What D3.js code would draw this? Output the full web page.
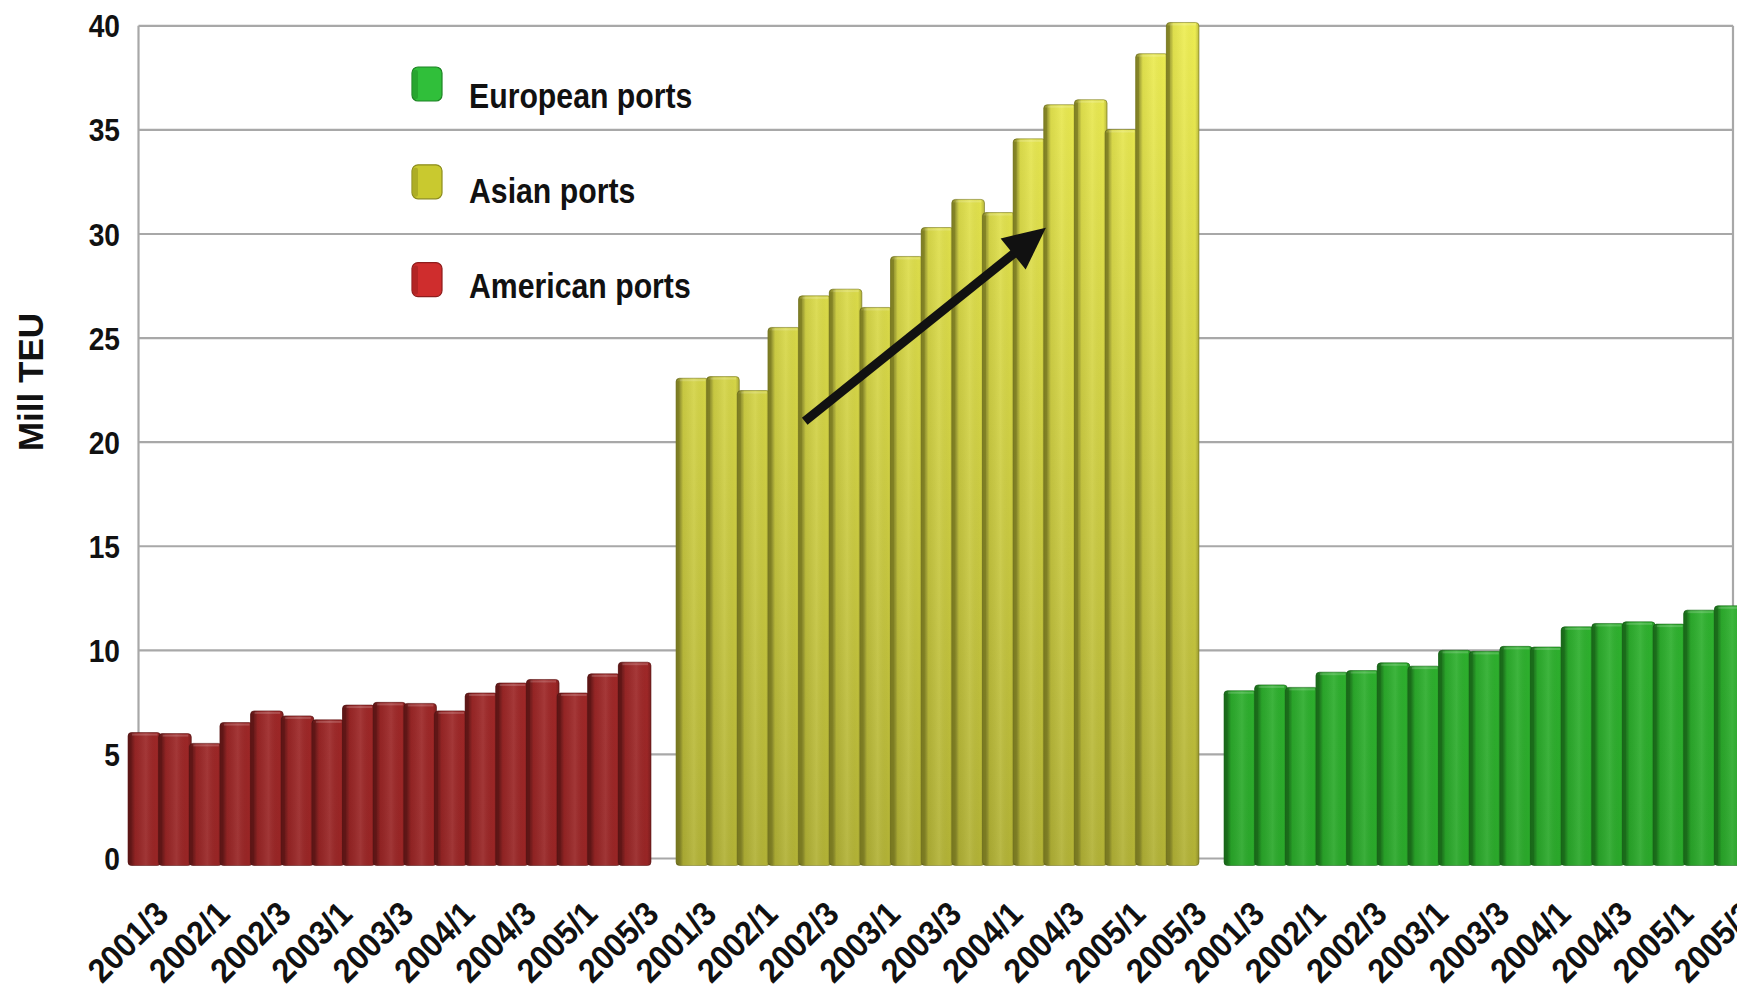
<!DOCTYPE html>
<html>
<head>
<meta charset="utf-8">
<script src="https://cdn.jsdelivr.net/npm/d3@7"></script>
<style>
  html, body { margin: 0; padding: 0; background: #fff; }
  svg { display: block; }
  text { font-family: "Liberation Sans", Arial, sans-serif; font-weight: bold; fill: #111; }
</style>
</head>
<body>
<svg id="chart" width="1737" height="989"></svg>
<script>
// ---------- data ----------
const quarters = ["2001/3","2001/4","2002/1","2002/2","2002/3","2002/4","2003/1","2003/2","2003/3","2003/4","2004/1","2004/2","2004/3","2004/4","2005/1","2005/2","2005/3"];
const groups = ["American ports", "Asian ports", "European ports"];
const americanPorts = [6.05, 6.0, 5.53, 6.53, 7.09, 6.85, 6.66, 7.37, 7.5, 7.45, 7.09, 7.95, 8.43, 8.6, 7.95, 8.87, 9.43];
const asianPorts = [23.07, 23.15, 22.48, 25.51, 27.03, 27.35, 26.47, 28.92, 30.31, 31.66, 31.03, 34.57, 36.21, 36.45, 35.02, 38.66, 40.16];
const europeanPorts = [8.06, 8.34, 8.22, 8.95, 9.03, 9.4, 9.24, 10.0, 9.95, 10.19, 10.16, 11.13, 11.29, 11.37, 11.26, 11.93, 12.14];
const xTickLabels = ["2001/3","2002/1","2002/3","2003/1","2003/3","2004/1","2004/3","2005/1","2005/3"];
const yTicks = [0, 5, 10, 15, 20, 25, 30, 35, 40];
const legendOrder = ["European ports", "Asian ports", "American ports"];
const yTitle = "Mill TEU";
// trend arrow annotation (data coordinates)
const arrowFrom = { group: "Asian ports", quarter: "2002/3", frac: 0.2, value: 21.0 };
const arrowTo = { group: "Asian ports", quarter: "2004/3", frac: 0.07, value: 30.3 };

const seriesValues = { "American ports": americanPorts, "Asian ports": asianPorts, "European ports": europeanPorts };
const palette = {
  "American ports": { top: "#b33030", bottom: "#982525", side: "#5e1616", legend: "#cf2d2d", legendSide: "#8e1c1c" },
  "Asian ports":    { top: "#eded52", bottom: "#b2b236", side: "#7c7c22", legend: "#c9c92f", legendSide: "#8c8c1d" },
  "European ports": { top: "#37c437", bottom: "#2aa82a", side: "#1a6a1a", legend: "#30bf3a", legendSide: "#1d8424" }
};

// ---------- layout ----------
const svg = d3.select("#chart");
const plotLeft = 138.5, plotRight = 1733;
const y = d3.scaleLinear().domain([0, 40]).range([858.5, 25.8]);
const xGroup = d3.scaleBand().domain(groups).range([128, 1745]).paddingInner(0.0493).paddingOuter(0);
const xQ = d3.scaleBand().domain(quarters).range([0, xGroup.bandwidth()]).padding(0);

const defs = svg.append("defs");
groups.forEach((g, gi) => {
  const lg = defs.append("linearGradient").attr("id", "vg" + gi)
    .attr("gradientUnits", "userSpaceOnUse")
    .attr("x1", 0).attr("x2", 0).attr("y1", y(40)).attr("y2", y(0));
  lg.append("stop").attr("offset", "0%").attr("stop-color", palette[g].top);
  lg.append("stop").attr("offset", "100%").attr("stop-color", palette[g].bottom);
});
const hg = defs.append("linearGradient").attr("id", "shade").attr("x1", 0).attr("x2", 1).attr("y1", 0).attr("y2", 0);
[["0%", "#000", 0.4], ["14%", "#000", 0.25], ["22%", "#000", 0.06], ["55%", "#fff", 0.08], ["88%", "#000", 0.0], ["100%", "#000", 0.2]]
  .forEach(s => hg.append("stop").attr("offset", s[0]).attr("stop-color", s[1]).attr("stop-opacity", s[2]));

// ---------- grid ----------
const grid = svg.append("g");
grid.selectAll("line.h").data(yTicks).join("line")
  .attr("x1", plotLeft).attr("x2", plotRight)
  .attr("y1", d => y(d)).attr("y2", d => y(d))
  .attr("stroke", "#a8a8a8").attr("stroke-width", 2.2);
grid.append("line").attr("x1", plotLeft).attr("x2", plotLeft).attr("y1", y(40)).attr("y2", y(0))
  .attr("stroke", "#a8a8a8").attr("stroke-width", 2.2);
grid.append("line").attr("x1", plotRight).attr("x2", plotRight).attr("y1", y(40)).attr("y2", y(0))
  .attr("stroke", "#a8a8a8").attr("stroke-width", 2.2);

// ---------- y tick labels ----------
svg.append("g").selectAll("text").data(yTicks).join("text")
  .attr("transform", d => `translate(120,${y(d)}) scale(0.88,1)`)
  .attr("text-anchor", "end").attr("dy", "0.36em")
  .style("font-size", "32px")
  .text(d => d);

svg.append("text")
  .attr("transform", `translate(43,382) rotate(-90)`)
  .attr("text-anchor", "middle")
  .style("font-size", "35px")
  .text(yTitle);

// ---------- bars ----------
const bars = svg.append("g");
const base = y(0) + 7;
groups.forEach((g, gi) => {
  const data = quarters.map((q, i) => ({ q, v: seriesValues[g][i] }));
  const gg = bars.append("g").attr("transform", `translate(${xGroup(g)},0)`);
  const w = xQ.step() + 2;
  const bar = gg.selectAll("g.bar").data(data).join("g").attr("class", "bar");
  bar.append("rect")
    .attr("x", d => xQ(d.q)).attr("y", d => y(d.v))
    .attr("width", w).attr("height", d => base - y(d.v))
    .attr("rx", 3.5)
    .attr("fill", `url(#vg${gi})`)
    .attr("stroke", palette[g].side).attr("stroke-opacity", 0.6).attr("stroke-width", 1);
  bar.append("rect")
    .attr("x", d => xQ(d.q)).attr("y", d => y(d.v))
    .attr("width", w).attr("height", d => base - y(d.v))
    .attr("rx", 3.5)
    .attr("fill", "url(#shade)");
  bar.append("rect")
    .attr("x", d => xQ(d.q)).attr("y", d => y(d.v) + 3)
    .attr("width", 3.5).attr("height", d => base - y(d.v) - 5)
    .attr("fill", palette[g].side).attr("opacity", 0.75);
  bar.append("rect")
    .attr("x", d => xQ(d.q) + 4).attr("y", d => y(d.v) + 1)
    .attr("width", w - 7).attr("height", 2)
    .attr("fill", "#fff").attr("opacity", 0.18);
});

// ---------- x tick labels ----------
const xl = svg.append("g");
groups.forEach(g => {
  xl.selectAll(null).data(xTickLabels).join("text")
    .attr("transform", d => `translate(${xGroup(g) + xQ(d) + xQ.bandwidth() / 2 + 27},916) rotate(-45) scale(0.93,1)`)
    .attr("text-anchor", "end")
    .style("font-size", "34px")
    .text(d => d);
});

// ---------- legend ----------
const leg = svg.append("g");
legendOrder.forEach((g, i) => {
  const sy = 67 + i * 97.8;
  leg.append("rect").attr("x", 412).attr("y", sy).attr("width", 30).attr("height", 34).attr("rx", 6)
    .attr("fill", palette[g].legend).attr("stroke", palette[g].legendSide).attr("stroke-width", 1.2);
  leg.append("rect").attr("x", 413).attr("y", sy + 3).attr("width", 5).attr("height", 29).attr("rx", 2)
    .attr("fill", palette[g].legendSide).attr("opacity", 0.45);
  leg.append("text")
    .attr("transform", `translate(469,${108.3 + i * 95}) scale(0.84,1)`)
    .style("font-size", "36px")
    .text(g);
});

// ---------- arrow ----------
const ax = a => xGroup(a.group) + xQ(a.quarter) + xQ.bandwidth() * a.frac;
const x1 = ax(arrowFrom), y1 = y(arrowFrom.value), x2 = ax(arrowTo), y2 = y(arrowTo.value);
const dx = x2 - x1, dy = y2 - y1, len = Math.hypot(dx, dy), ux = dx / len, uy = dy / len;
const headLen = 42, headHalf = 20;
const bx = x2 - ux * headLen, by = y2 - uy * headLen;
svg.append("line").attr("x1", x1).attr("y1", y1).attr("x2", bx + ux * 4).attr("y2", by + uy * 4)
  .attr("stroke", "#111").attr("stroke-width", 9);
svg.append("path")
  .attr("d", d3.line()([[x2, y2], [bx - uy * headHalf, by + ux * headHalf], [bx + uy * headHalf, by - ux * headHalf]]) + "Z")
  .attr("fill", "#111");
</script>
</body>
</html>
